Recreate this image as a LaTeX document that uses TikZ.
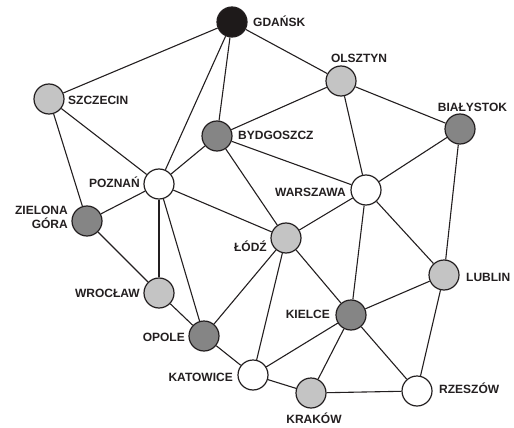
\documentclass[tikz,border=0pt]{standalone}
\usepackage{fontspec}
\setmainfont{Liberation Sans}
\definecolor{cityblack}{HTML}{1E1A1A}
\definecolor{citydark}{HTML}{858585}
\definecolor{citylight}{HTML}{C4C4C4}
\definecolor{cityline}{HTML}{231F20}
\begin{document}
\begin{tikzpicture}[x=1pt, y=-1pt,
  city/.style={circle, draw=cityline, line width=1.2pt, minimum size=30pt, inner sep=0pt},
  road/.style={cityline, line width=1.1pt},
  lbl/.style={font=\bfseries\fontsize{12}{14}\selectfont, text=cityline, inner sep=0pt, text height=8.6pt, text depth=0pt}]
\useasboundingbox (0, 0) rectangle (514, 428);

\node [city, fill=cityblack] (gdansk) at (232, 22) {};
\node [city, fill=citylight] (olsztyn) at (341, 81) {};
\node [city, fill=citylight] (szczecin) at (49, 99) {};
\node [city, fill=citydark] (bialystok) at (460, 129) {};
\node [city, fill=citydark] (bydgoszcz) at (217, 136) {};
\node [city, fill=white] (poznan) at (159, 184) {};
\node [city, fill=white] (warszawa) at (366, 190) {};
\node [city, fill=citydark] (zielona) at (87, 221) {};
\node [city, fill=citylight] (lodz) at (286, 238) {};
\node [city, fill=citylight] (lublin) at (444, 275) {};
\node [city, fill=citylight] (wroclaw) at (159, 293) {};
\node [city, fill=citydark] (kielce) at (351, 315) {};
\node [city, fill=citydark] (opole) at (204, 336) {};
\node [city, fill=white] (katowice) at (253, 375) {};
\node [city, fill=white] (rzeszow) at (417, 391) {};
\node [city, fill=citylight] (krakow) at (311, 393) {};

\draw [road] (gdansk) -- (szczecin);
\draw [road] (gdansk) -- (poznan);
\draw [road] (gdansk) -- (bydgoszcz);
\draw [road] (gdansk) -- (olsztyn);
\draw [road] (szczecin) -- (poznan);
\draw [road] (szczecin) -- (zielona);
\draw [road] (bydgoszcz) -- (poznan);
\draw [road] (bydgoszcz) -- (olsztyn);
\draw [road] (bydgoszcz) -- (warszawa);
\draw [road] (bydgoszcz) -- (lodz);
\draw [road] (olsztyn) -- (bialystok);
\draw [road] (olsztyn) -- (warszawa);
\draw [road] (bialystok) -- (warszawa);
\draw [road] (bialystok) -- (lublin);
\draw [road] (poznan) -- (zielona);
\draw [road] (poznan) -- (wroclaw);
\draw [road] (poznan) -- (opole);
\draw [road] (poznan) -- (lodz);
\draw [road] (zielona) -- (wroclaw);
\draw [road] (wroclaw) -- (opole);
\draw [road] (opole) -- (lodz);
\draw [road] (opole) -- (katowice);
\draw [road] (lodz) -- (warszawa);
\draw [road] (lodz) -- (kielce);
\draw [road] (lodz) -- (katowice);
\draw [road] (warszawa) -- (kielce);
\draw [road] (warszawa) -- (lublin);
\draw [road] (lublin) -- (kielce);
\draw [road] (lublin) -- (rzeszow);
\draw [road] (kielce) -- (katowice);
\draw [road] (kielce) -- (krakow);
\draw [road] (kielce) -- (rzeszow);
\draw [road] (katowice) -- (krakow);
\draw [road] (krakow) -- (rzeszow);

\node [lbl, anchor=west] (gdanskL) at (253, 22) {GDAŃSK};
\node [lbl] (olsztynL) at (359, 58) {OLSZTYN};
\node [lbl] (bialystokL) at (472.5, 107) {BIAŁYSTOK};
\node [lbl, anchor=west] (szczecinL) at (68, 100) {SZCZECIN};
\node [lbl, anchor=west] (bydgoszczL) at (238, 135) {BYDGOSZCZ};
\node [lbl, anchor=east] (poznanL) at (140, 183) {POZNAŃ};
\node [lbl, anchor=east] (warszawaL) at (346, 192) {WARSZAWA};
\node [lbl, anchor=east] (zielonaL) at (68, 210) {ZIELONA};
\node [lbl, anchor=east] (goraL) at (68, 224) {GÓRA};
\node [lbl, anchor=east] (lodzL) at (267, 247) {ŁÓDŹ};
\node [lbl, anchor=west] (lublinL) at (466, 277) {LUBLIN};
\node [lbl, anchor=east] (wroclawL) at (140, 293) {WROCŁAW};
\node [lbl, anchor=east] (kielceL) at (330, 314) {KIELCE};
\node [lbl, anchor=east] (opoleL) at (185, 337) {OPOLE};
\node [lbl, anchor=east] (katowiceL) at (233, 377) {KATOWICE};
\node [lbl, anchor=west] (rzeszowL) at (439, 389) {RZESZÓW};
\node [lbl] (krakowL) at (314, 419) {KRAKÓW};
\end{tikzpicture}
\end{document}
